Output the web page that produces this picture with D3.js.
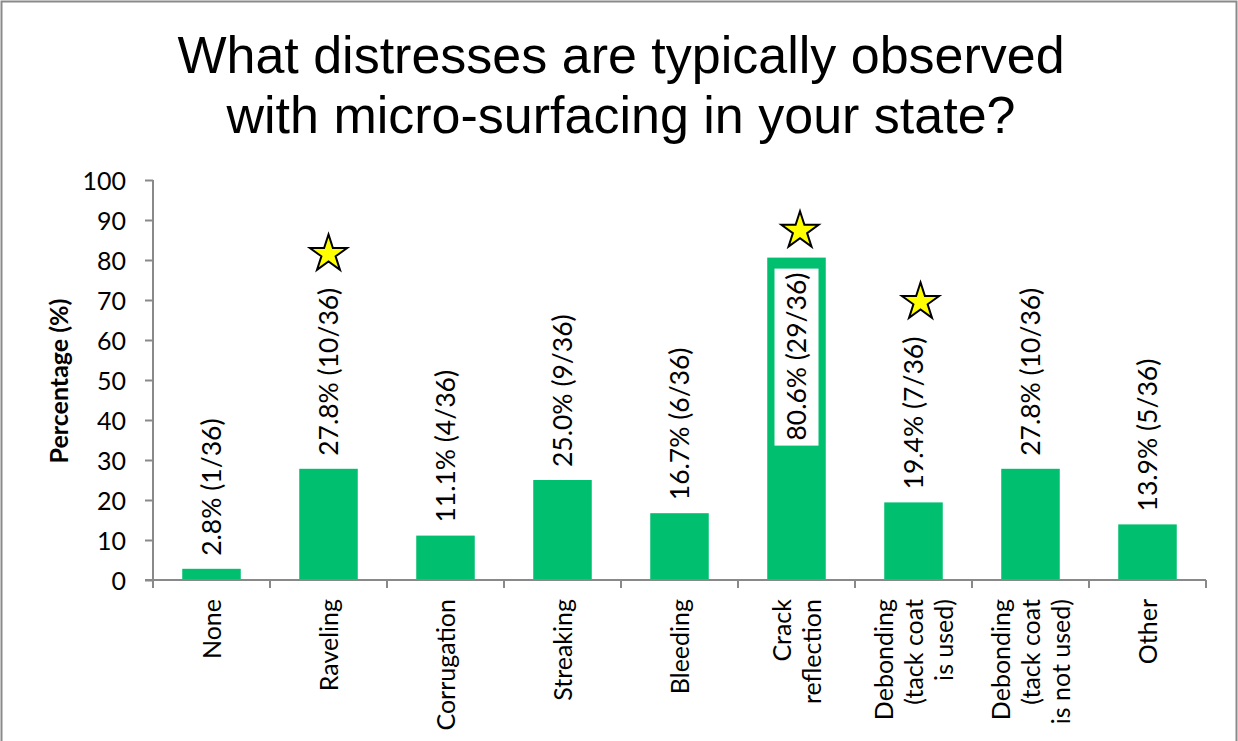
<!DOCTYPE html>
<html>
<head>
<meta charset="utf-8">
<script src="https://cdn.jsdelivr.net/npm/d3@7"></script>
<style>
  html, body { margin: 0; padding: 0; background: #fff; }
  svg { display: block; }
</style>
</head>
<body>
<svg id="chart" width="1238" height="741"></svg>
<script>
// Survey responses: distresses observed with micro-surfacing (36 respondents)
const categories = [
  "None", "Raveling", "Corrugation", "Streaking", "Bleeding",
  "Crack\nreflection", "Debonding\n(tack coat\nis used)",
  "Debonding\n(tack coat\nis not used)", "Other"
];
const percentages = [2.8, 27.8, 11.1, 25.0, 16.7, 80.6, 19.4, 27.8, 13.9];
const counts = [1, 10, 4, 9, 6, 29, 7, 10, 5];
const respondents = 36;
const yTicks = [0, 10, 20, 30, 40, 50, 60, 70, 80, 90, 100];
const titleLines = ["What distresses are typically observed", "with micro-surfacing in your state?"];
// Highlight stars: category and the percentage level they sit at
const starCategories = ["Raveling", "Crack\nreflection", "Debonding\n(tack coat\nis used)"];
const starLevels = [81.5, 87.3, 69.5];
const starNudge = [0, 0.03, 0.06];   // fraction of a band step

const svg = d3.select("#chart");
const W = 1238, H = 741;
const plot = { left: 153, right: 1206, top: 180, bottom: 580 };
const AXIS = "#898989";
const BAR = "#00BF6F";
const FONT = "Lato, 'Open Sans', sans-serif";

// frame
svg.append("rect").attr("x", 1.5).attr("y", 1.5).attr("width", W - 3).attr("height", H + 10)
  .attr("fill", "#fff").attr("stroke", "#8a8a8a").attr("stroke-width", 2);

// title
svg.append("text")
  .attr("text-anchor", "middle")
  .attr("font-family", "'Liberation Sans', Arial, sans-serif")
  .attr("font-size", 52)
  .attr("fill", "#000")
  .selectAll("tspan").data(titleLines).join("tspan")
  .attr("x", 621).attr("y", (d, i) => 73 + i * 60)
  .text(d => d);

const x = d3.scaleBand().domain(categories).range([plot.left, plot.right])
  .paddingInner(0.5).paddingOuter(0.25);
const y = d3.scaleLinear().domain([0, 100]).range([plot.bottom, plot.top]);

// y axis
const yAxis = svg.append("g").attr("transform", `translate(${plot.left},0)`)
  .call(d3.axisLeft(y).tickValues(yTicks).tickSize(8).tickPadding(19).tickFormat(d3.format("d")));
yAxis.select(".domain").remove();
yAxis.selectAll(".tick line").attr("stroke", AXIS).attr("stroke-width", 2);
yAxis.selectAll(".tick text").attr("font-family", FONT).attr("font-size", 25).attr("fill", "#000")
  .attr("dy", "0.36em");
svg.append("line").attr("x1", plot.left).attr("x2", plot.left)
  .attr("y1", plot.top).attr("y2", plot.bottom + 8).attr("stroke", AXIS).attr("stroke-width", 2);

// y axis title
svg.append("text")
  .attr("transform", `translate(59,${(plot.top + plot.bottom) / 2 + 1}) rotate(-90)`)
  .attr("text-anchor", "middle").attr("dy", "0.35em")
  .attr("font-family", FONT).attr("font-weight", "bold").attr("font-size", 25)
  .text("Percentage (%)");

// bars
const rows = categories.map((c, i) => ({ cat: c, pct: percentages[i], n: counts[i] }));
svg.append("g").selectAll("rect").data(rows).join("rect")
  .attr("x", d => x(d.cat)).attr("width", x.bandwidth())
  .attr("y", d => y(d.pct)).attr("height", d => y(0) - y(d.pct))
  .attr("fill", BAR);

// x axis line and category boundary ticks
svg.append("line").attr("x1", plot.left - 8).attr("x2", plot.right)
  .attr("y1", plot.bottom).attr("y2", plot.bottom).attr("stroke", AXIS).attr("stroke-width", 2);
const step = x.step();
const bounds = d3.range(categories.length + 1).map(i => plot.left + i * step);
svg.append("g").selectAll("line").data(bounds).join("line")
  .attr("x1", d => d).attr("x2", d => d)
  .attr("y1", plot.bottom).attr("y2", plot.bottom + 8)
  .attr("stroke", AXIS).attr("stroke-width", 2);

// category labels (rotated, multi-line)
const lineH = 30;
const catG = svg.append("g").selectAll("g").data(categories).join("g")
  .attr("transform", d => `translate(${x(d) + x.bandwidth() / 2},${plot.bottom + 19}) rotate(-90)`);
catG.each(function (d) {
  const lines = d.split("\n");
  const t = d3.select(this).append("text")
    .attr("text-anchor", "end")
    .attr("font-family", FONT).attr("font-size", 25).attr("fill", "#000");
  lines.forEach((ln, i) => {
    t.append("tspan").attr("x", 0)
      .attr("y", (i - (lines.length - 1) / 2) * lineH)
      .attr("dy", "0.36em").text(ln);
  });
});

// value labels
const labelG = svg.append("g");
rows.forEach(d => {
  const cx = x(d.cat) + x.bandwidth() / 2;
  const txt = `${d.pct.toFixed(1)}% (${d.n}/${respondents})`;
  const g = labelG.append("g");
  const t = g.append("text")
    .attr("font-family", FONT).attr("font-size", 26.5).attr("fill", "#000")
    .attr("dy", "0.36em").text(txt);
  const len = t.node().getComputedTextLength();
  const gap = 13;
  if (y(d.pct) - gap - len < plot.top) {
    // no room above: place inside the top of the bar on a white box
    g.attr("transform", `translate(${cx},${y(d.pct) + 15}) rotate(-90)`);
    t.attr("text-anchor", "end");
    g.insert("rect", "text")
      .attr("x", -len - 5).attr("width", len + 9)
      .attr("y", -22).attr("height", 44)
      .attr("fill", "#fff");
  } else {
    g.attr("transform", `translate(${cx},${y(d.pct) - gap}) rotate(-90)`);
    t.attr("text-anchor", "start");
  }
});

// highlight stars
const starPath = d3.symbol().type(d3.symbolStar).size(430);
svg.append("g").selectAll("path").data(starCategories).join("path")
  .attr("d", starPath)
  .attr("transform", (d, i) =>
    `translate(${x(d) + x.bandwidth() / 2 + starNudge[i] * step},${y(starLevels[i])})`)
  .attr("fill", "#FFFF00").attr("stroke", "#000").attr("stroke-width", 2)
  .attr("stroke-linejoin", "miter");
</script>
</body>
</html>
